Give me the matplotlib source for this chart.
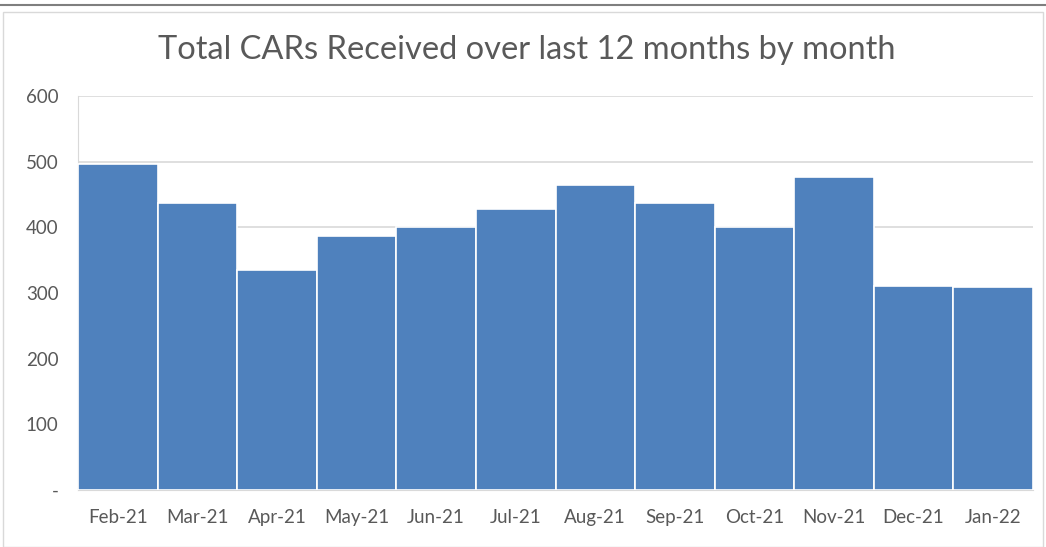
import matplotlib
matplotlib.use("Agg")
import matplotlib.pyplot as plt
from matplotlib.patches import Rectangle

months = ["Feb-21", "Mar-21", "Apr-21", "May-21", "Jun-21", "Jul-21",
          "Aug-21", "Sep-21", "Oct-21", "Nov-21", "Dec-21", "Jan-22"]
cars = [497, 437, 335, 387, 400, 428, 464, 437, 401, 476, 311, 309]
yticks = [0, 100, 200, 300, 400, 500, 600]
ytick_labels = ["-", "100", "200", "300", "400", "500", "600"]
title = "Total CARs Received over last 12 months by month"

plt.rcParams['font.family'] = ['Lato', 'DejaVu Sans']
txt = "#595959"

fig = plt.figure(figsize=(10.46, 5.47), dpi=100)
fig.patches.append(Rectangle((3/1046, 0), 1040/1046, 1 - 12/547, transform=fig.transFigure,
                             fill=False, edgecolor="#D9D9D9", linewidth=1))
fig.lines.append(plt.Line2D([0, 1], [1 - 5/547, 1 - 5/547], transform=fig.transFigure,
                            color="#7F7F7F", linewidth=1.5))
ax = fig.add_axes([78/1046, 1 - 490/547, (1033 - 78)/1046, (490 - 96)/547])

x = range(len(months))
ax.bar(x, cars, width=1.0, color="#4F81BD", edgecolor="white", linewidth=1.2, zorder=3)
ax.set_xlim(-0.5, len(months) - 0.5)
ax.set_ylim(0, 600)
ax.set_yticks(yticks)
ax.set_yticklabels(ytick_labels)
ax.set_xticks(list(x))
ax.set_xticklabels(months)
ax.yaxis.grid(True, color="#D9D9D9", linewidth=1.2, zorder=0)
ax.set_axisbelow(True)
for s in ["top", "right"]:
    ax.spines[s].set_visible(False)
ax.spines["left"].set_color("#D9D9D9")
ax.spines["bottom"].set_color("#D9D9D9")
ax.tick_params(axis="both", length=0, labelsize=13.5, colors=txt)
ax.tick_params(axis="x", pad=14)
ax.tick_params(axis="y", pad=14)
fig.text(0.504, 1 - 50/547, title, ha="center", va="center", fontsize=23.5, color=txt)

fig.savefig("out.png", dpi=100)
